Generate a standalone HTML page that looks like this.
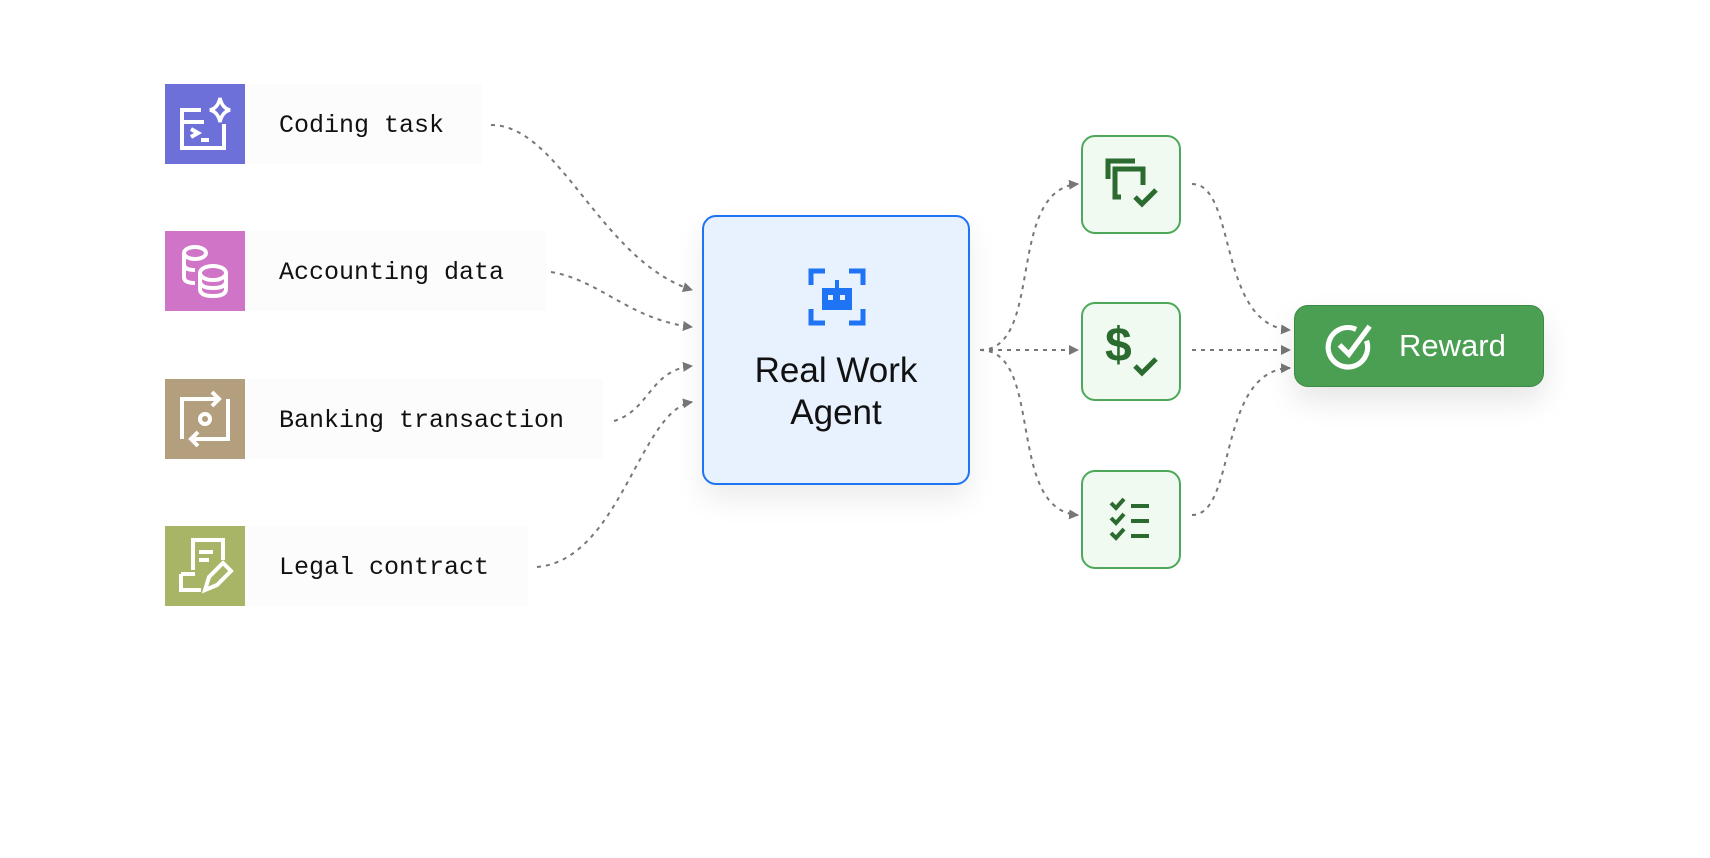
<!DOCTYPE html>
<html><head><meta charset="utf-8"><style>
html,body{margin:0;padding:0;background:#fff;}
body{width:1710px;height:858px;position:relative;overflow:hidden;font-family:"Liberation Sans",sans-serif;}
.lbl{position:absolute;height:80px;background:#fcfcfc;font-family:"Liberation Mono",monospace;font-size:25px;color:#111;line-height:84px;padding-left:34px;box-sizing:border-box;}
.ic{position:absolute;width:80px;height:80px;left:165px;}
.agent{position:absolute;left:702px;top:215px;width:268px;height:270px;box-sizing:border-box;border:2px solid #1f74f5;border-radius:14px;background:#e8f1fe;box-shadow:0 14px 30px rgba(0,0,0,0.08);}
.agent .t{position:absolute;top:133px;width:100%;text-align:center;font-size:35px;line-height:42px;color:#111;}
.g{position:absolute;left:1081px;width:100px;height:99px;box-sizing:border-box;border:2px solid #4ea85a;border-radius:14px;background:#f1faf1;}
.rw{position:absolute;left:1294px;top:305px;width:250px;height:82px;box-sizing:border-box;border:1.5px solid #3a8a44;border-radius:14px;background:#4a9f52;box-shadow:0 14px 30px rgba(0,0,0,0.1);color:#fff;font-size:31px;}
</style></head><body>
<div class="lbl" style="left:245px;top:84px;width:237px">Coding task</div>
<div class="lbl" style="left:245px;top:231px;width:301px">Accounting data</div>
<div class="lbl" style="left:245px;top:379px;width:358px">Banking transaction</div>
<div class="lbl" style="left:245px;top:526px;width:283px">Legal contract</div>

<svg class="ic" style="top:84px" viewBox="0 0 80 80"><rect width="80" height="80" fill="#6d70d9"/>
<g fill="none" stroke="#fff" stroke-width="4"><path d="M36 26H17V64H59V40"/><path d="M17 38h22"/><path d="M26 45l7 4-7 4"/><path d="M36 56h8"/></g>
<path d="M55 14 Q57 24 65 26 Q57 28 55 38 Q53 28 45 26 Q53 24 55 14Z" fill="none" stroke="#fff" stroke-width="3.5"/></svg>
<svg class="ic" style="top:231px" viewBox="0 0 80 80"><rect width="80" height="80" fill="#cf74c6"/>
<g fill="none" stroke="#fff" stroke-width="4"><ellipse cx="30" cy="22" rx="11" ry="6"/><path d="M19 22v24q0 6 11 6M19 33q0 6 11 6"/><ellipse cx="48" cy="42" rx="13" ry="7"/><path d="M35 42v16q0 7 13 7t13-7V42M35 50q0 7 13 7t13-7"/></g></svg>
<svg class="ic" style="top:379px" viewBox="0 0 80 80"><rect width="80" height="80" fill="#b39f7e"/>
<g fill="none" stroke="#fff" stroke-width="4"><path d="M17 60V20H54M47 13l7 7-7 7"/><path d="M63 20V60H26M33 53l-7 7 7 7"/><circle cx="40" cy="40" r="5"/></g></svg>
<svg class="ic" style="top:526px" viewBox="0 0 80 80"><rect width="80" height="80" fill="#a8b566"/>
<g fill="none" stroke="#fff" stroke-width="4"><path d="M28 44V14H58V34"/><path d="M34 26h14M34 34h10"/><path d="M16 48v16h20"/><path d="M16 48h14"/><path d="M40 64l4-13 14-14 8 8-14 14z"/></g></svg>

<svg style="position:absolute;left:0;top:0" width="1710" height="858">
<defs><marker id="a" markerWidth="10" markerHeight="10" refX="9" refY="5" orient="auto" markerUnits="userSpaceOnUse"><path d="M0 0L10 5L0 10z" fill="#777"/></marker></defs>
<g fill="none" stroke="#777" stroke-width="2" stroke-dasharray="4 5" marker-end="url(#a)">
<path d="M491 125C560 125 600 260 692 290"/>
<path d="M551 272C600 280 630 320 692 327"/>
<path d="M614 421C650 410 650 370 692 366"/>
<path d="M537 567C620 560 640 410 692 402"/>
<path d="M980 350C1045 350 1005 190 1078 184"/>
<path d="M980 350H1078"/>
<path d="M980 350C1045 350 1005 510 1078 515"/>
<path d="M1192 184C1237 184 1217 325 1290 330"/>
<path d="M1192 350H1290"/>
<path d="M1192 515C1237 515 1217 370 1290 368"/>
</g></svg>

<div class="agent">
<svg style="position:absolute;left:104px;top:51px" width="58" height="58" viewBox="0 0 58 58"><g fill="none" stroke="#1f74f5" stroke-width="5"><path d="M3 17V3H17M41 3H55V17M3 41V55H17M55 41V55H41"/></g>
<rect x="14" y="20" width="30" height="22" fill="#1f74f5"/><rect x="27" y="12" width="4" height="8" fill="#1f74f5"/><rect x="20" y="27" width="5" height="5" fill="#e8f1fe"/><rect x="32" y="27" width="5" height="5" fill="#e8f1fe"/></svg>
<div class="t">Real Work<br>Agent</div></div>

<div class="g" style="top:135px"><svg width="96" height="95" viewBox="0 0 96 95"><g fill="none" stroke="#2b6b30" stroke-width="5"><path d="M25 42V24H52"/><path d="M38 60H32V32H60V48"/><path d="M52 60l7 7 14-14"/></g></svg></div>
<div class="g" style="top:302px"><div style="position:absolute;left:22px;top:14px;font-size:48px;font-weight:bold;color:#2b6b30;">$</div><svg width="96" height="95" viewBox="0 0 96 95" style="position:absolute;left:0;top:0"><path d="M52 62l7 7 14-14" fill="none" stroke="#2b6b30" stroke-width="5"/></svg></div>
<div class="g" style="top:470px"><svg width="96" height="95" viewBox="0 0 96 95"><g fill="none" stroke="#2b6b30" stroke-width="4"><path d="M28 31l5 5 8-9M28 46l5 5 8-9M28 61l5 5 8-9"/><path d="M48 34h18M48 49h18M48 64h18"/></g></svg></div>

<div class="rw"><svg style="position:absolute;left:30px;top:14px" width="54" height="54" viewBox="0 0 52 52"><g fill="none" stroke="#fff" stroke-width="5"><path d="M40 20A19 19 0 1 1 30 9"/><path d="M14 24l9 9 20-27"/></g></svg>
<div style="position:absolute;left:104px;top:0;line-height:80px">Reward</div></div>
</body></html>
